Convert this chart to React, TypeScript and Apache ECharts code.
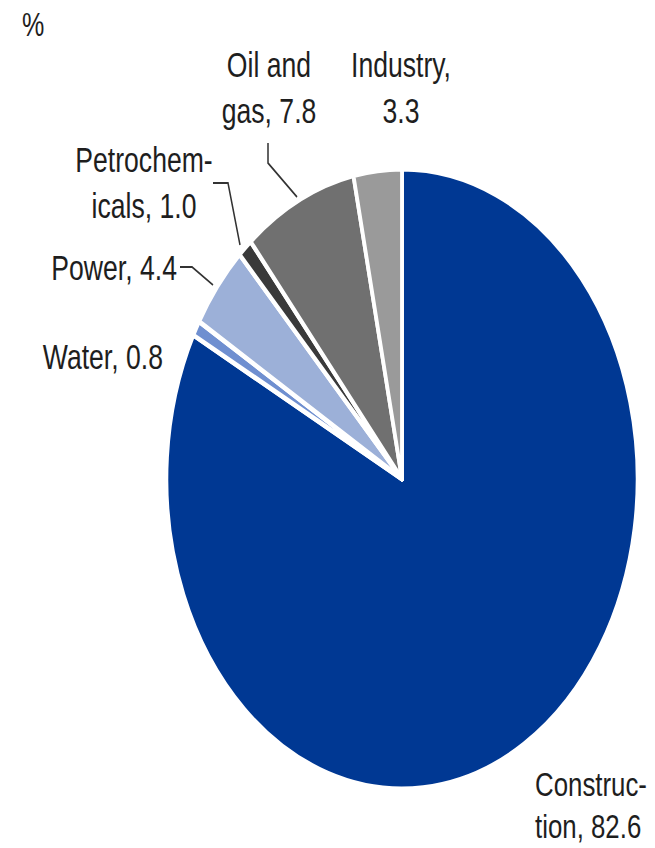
import React, { useEffect, useRef } from "react";
import * as echarts from "echarts";

const categories = ["Construction", "Water", "Power", "Petrochemicals", "Oil and gas", "Industry"];
const values = [82.6, 0.8, 4.4, 1.0, 7.8, 3.3];
const labelTexts = [
  "Construc-\ntion, 82.6",
  "Water, 0.8",
  "Power, 4.4",
  "Petrochem-\nicals, 1.0",
  "Oil and\ngas, 7.8",
  "Industry,\n3.3",
];
const unitLabel = "%";

const colors = ["#003893", "#6f8fd0", "#9cb0d8", "#3a3a3a", "#707070", "#9a9a9a"];

const SX = 0.76;
const W = 655 / SX;
const H = 848;
const u = (px: number) => px / SX;

// label placement (unscaled chart coordinates)
const layouts: any[] = [
  { x: u(535), y: 805, align: "left", verticalAlign: "middle", lineHeight: 42 },
  { x: u(163), y: 357, align: "right", verticalAlign: "middle" },
  { x: u(177), y: 268, align: "right", verticalAlign: "middle", labelLinePoints: [[u(180), 267], [u(192), 267], [u(213), 285]] },
  { x: u(144), y: 183, align: "center", verticalAlign: "middle", labelLinePoints: [[u(213), 183], [u(228), 183], [u(240), 245]] },
  { x: u(269), y: 88, align: "center", verticalAlign: "middle", labelLinePoints: [[u(268), 143], [u(268), 163], [u(297), 197]] },
  { x: u(401), y: 88, align: "center", verticalAlign: "middle" },
];
const hasLine = [false, false, true, true, true, false];
const lineHeights = [42, 46, 46, 46, 46, 46];

const FONT = "'Liberation Sans', Arial, sans-serif";

export default function App() {
  const ref = useRef<HTMLDivElement>(null);
  useEffect(() => {
    if (!ref.current) return;
    const chart = echarts.init(ref.current, null, { renderer: "svg" });
    chart.setOption({
      animation: false,
      backgroundColor: "#ffffff",
      graphic: [
        {
          type: "text",
          x: u(22),
          y: 24,
          style: {
            text: unitLabel,
            fontFamily: FONT,
            fontSize: 33,
            fill: "#1e1e1e",
            verticalAlign: "middle",
          },
        },
      ],
      series: [
        {
          type: "pie",
          center: [u(402), 479],
          radius: [0, 310],
          startAngle: 90,
          clockwise: true,
          avoidLabelOverlap: false,
          itemStyle: { borderColor: "#ffffff", borderWidth: 5 },
          label: {
            show: true,
            position: "outside",
            fontFamily: FONT,
            fontSize: 35,
            lineHeight: 46,
            color: "#1e1e1e",
            formatter: (p: any) => labelTexts[p.dataIndex],
          },
          labelLine: { show: true, lineStyle: { color: "#333333", width: 2 } },
          labelLayout: (params: any) => layouts[params.dataIndex],
          emphasis: { disabled: true },
          data: categories.map((name, i) => ({
            name,
            value: values[i],
            itemStyle: { color: colors[i] },
            label: { lineHeight: lineHeights[i], fontSize: i === 0 ? 34 : 35 },
            labelLine: { show: hasLine[i] },
          })),
        },
      ],
    });
    return () => chart.dispose();
  }, []);
  return (
    <div style={{ position: "absolute", left: 0, top: 0, width: 655, height: 848, overflow: "hidden", background: "#fff" }}>
      <div
        ref={ref}
        style={{ width: W, height: H, transform: `scaleX(${SX})`, transformOrigin: "left top" }}
      />
    </div>
  );
}
